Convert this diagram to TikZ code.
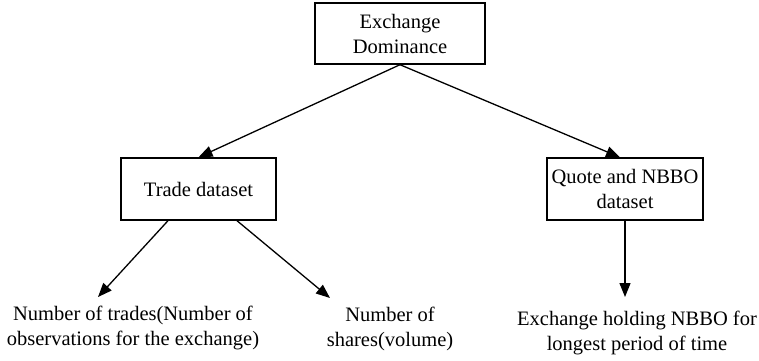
\documentclass[tikz,border=0pt]{standalone}
\usepackage{fontspec}
\setmainfont{Liberation Serif}
\usetikzlibrary{arrows.meta}
\begin{document}
\begin{tikzpicture}[x=1pt,y=-1pt,
  box/.style={draw,line width=1.4pt,inner sep=0pt,align=center,font=\fontsize{20.5}{25}\selectfont},
  lbl/.style={inner sep=0pt,align=center,font=\fontsize{20.5}{25}\selectfont},
  arr/.style={line width=1.3pt,-{Triangle[length=14pt,width=11pt]}}]
\useasboundingbox (0,0) rectangle (759,360);
\node[box,minimum width=170pt,minimum height=61pt] (top) at (400,33.5) {Exchange\\Dominance};
\node[box,minimum width=155pt,minimum height=62pt] (trade) at (198.5,189) {Trade dataset};
\node[box,minimum width=156pt,minimum height=62pt] (quote) at (625,189) {Quote and NBBO\\dataset};
\node[lbl] (ntr) at (133,328) {Number of trades(Number of\\observations for the exchange)};
\node[lbl] (nsh) at (390,329) {Number of\\shares(volume)};
\node[lbl] (exh) at (637,333) {Exchange holding NBBO for\\longest period of time};
\coordinate (t1) at (98,297);
\coordinate (t2) at (330,298);
\coordinate (t3) at (625,297);
\draw[arr] (top.south) -- (trade.north);
\draw[arr] (top.south) -- ([xshift=-5pt]quote.north);
\draw[arr] ([xshift=-30.5pt]trade.south) -- (t1);
\draw[arr] ([xshift=38.5pt]trade.south) -- (t2);
\draw[arr] (quote.south) -- (t3);
\end{tikzpicture}
\end{document}
